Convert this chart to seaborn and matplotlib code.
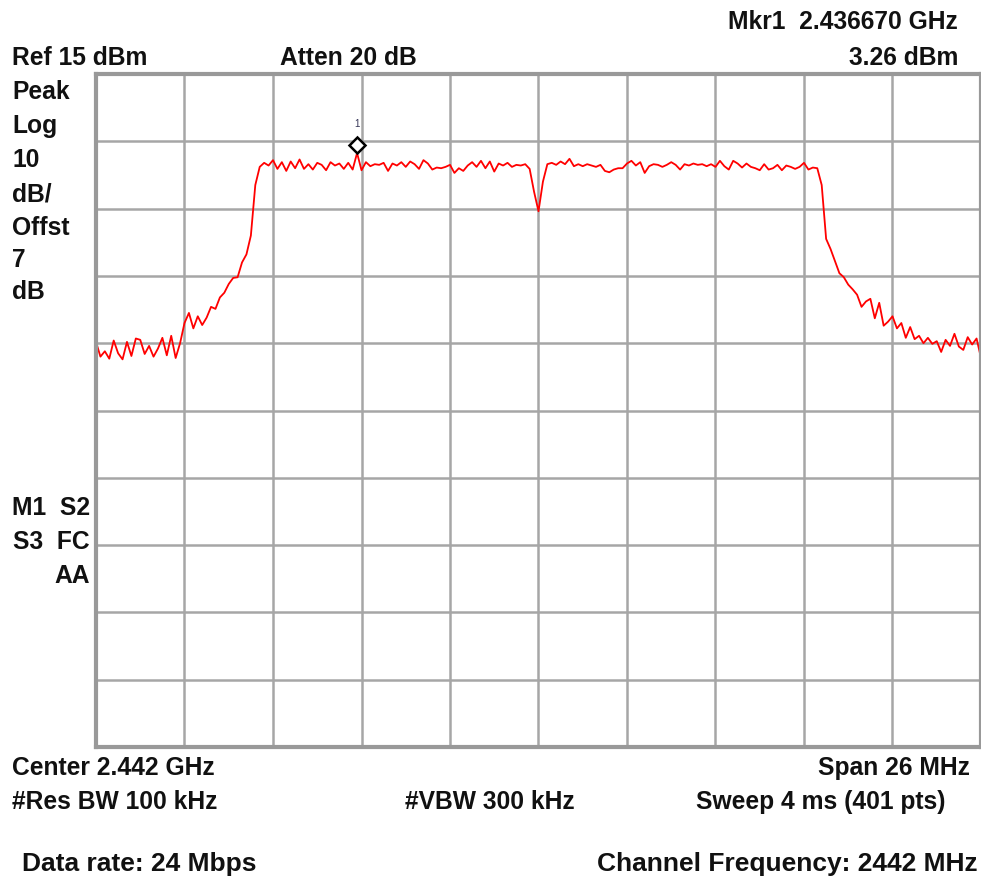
import numpy as np
import pandas as pd
import matplotlib
matplotlib.use('Agg')
import matplotlib.pyplot as plt
import matplotlib.transforms as mtransforms
import seaborn as sns

sns.set_style('white')
plt.rcParams['font.family'] = ['Liberation Sans', 'DejaVu Sans']

# Analyzer settings
center_mhz = 2442.0
span_mhz = 26.0
ref_dbm = 15
db_per_div = 10
n_pts = 201

mkr_freq = 2436.670
mkr_level = 3.26

# trace levels (dBm), left to right
level_a = [-24.8, -27.0, -26.2, -27.3, -24.6, -26.5, -27.4, -24.8, -26.9, -24.3,
           -24.5, -26.6, -25.4, -27.0, -25.8, -24.2, -26.8, -23.9, -27.2, -25.0,
           -22.0, -20.5, -22.8, -21.0, -22.3, -21.2, -19.6, -19.9, -18.2, -17.5,
           -16.2, -15.3, -15.2, -13.0, -11.8, -9.0, -1.5, 1.2, 1.8, 1.4]
level_b = [2.2, 0.9, 1.9, 0.6, 2.0, 1.0, 2.3, 0.9, 1.6, 0.8,
           1.8, 1.5, 0.7, 1.9, 1.4, 1.7, 0.9, 1.8, 0.8, 3.26,
           0.7, 1.9, 1.3, 1.6, 1.5, 1.8, 0.6, 1.7, 1.4, 1.9,
           1.2, 2.0, 1.6, 0.9, 2.2, 1.7, 0.8, 1.1, 1.0, 1.2]
level_c = [1.5, 0.3, 1.0, 0.6, 1.4, 1.9, 1.2, 2.1, 1.0, 2.0,
           0.5, 1.7, 1.4, 1.8, 1.2, 1.5, 1.4, 1.6, 0.9, -2.5,
           -5.4, -1.0, 1.6, 1.8, 1.5, 2.0, 1.6, 2.4, 1.3, 1.6,
           1.3, 1.6, 1.4, 1.2, 1.5, 0.6, 0.4, 0.8, 1.0, 1.0]
level_d = [1.7, 2.1, 1.4, 1.9, 0.3, 1.3, 1.6, 1.5, 1.2, 1.5,
           1.9, 1.5, 0.8, 1.6, 1.4, 1.7, 1.5, 1.6, 1.3, 1.6,
           1.2, 2.1, 1.3, 0.8, 2.1, 1.7, 1.1, 1.7, 1.2, 1.0,
           0.7, 1.6, 0.8, 1.0, 1.5, 0.7, 1.4, 1.2, 0.9, 1.2]
level_e = [1.8, 0.8, 1.1, 1.0, -1.5, -9.5, -11.0, -12.8, -14.6, -15.2,
           -16.3, -17.0, -17.8, -19.6, -18.8, -18.4, -21.3, -19.0, -22.4, -21.8,
           -21.0, -22.8, -22.0, -24.2, -22.6, -24.4, -23.9, -25.0, -24.2, -25.1,
           -24.7, -26.3, -24.5, -25.4, -23.6, -25.5, -26.0, -24.1, -25.2, -24.3,
           -27.2]
levels = level_a + level_b + level_c + level_d + level_e
assert len(levels) == n_pts

freqs = np.linspace(center_mhz - span_mhz / 2, center_mhz + span_mhz / 2, n_pts)
df = pd.DataFrame({'freq': freqs, 'level': levels})

W, H = 981, 879
fig = plt.figure(figsize=(W / 100, H / 100), dpi=100)
ax = fig.add_axes([96 / W, (H - 748) / H, 885 / W, 673 / H])

sns.lineplot(data=df, x='freq', y='level', color='#ff0000', lw=1.3, ax=ax)

# marker 1
off = mtransforms.offset_copy(ax.transData, fig=fig, x=0, y=8, units='dots')
ax.plot([mkr_freq], [mkr_level], marker='D', ms=8.5, mfc='white', mec='black',
        mew=1.8, transform=off, zorder=5)
off2 = mtransforms.offset_copy(ax.transData, fig=fig, x=0, y=30, units='dots')
ax.text(mkr_freq, mkr_level, '1', transform=off2, ha='center', va='center',
        fontsize=7, color='#333355')

x0 = center_mhz - span_mhz / 2
ax.set_xlim(x0, x0 + span_mhz)
ax.set_ylim(ref_dbm - 10 * db_per_div, ref_dbm)
ax.set_xticks(np.linspace(x0, x0 + span_mhz, 11))
ax.set_yticks(np.arange(ref_dbm - 10 * db_per_div, ref_dbm + 1, db_per_div))
ax.set_xticklabels([])
ax.set_yticklabels([])
ax.tick_params(length=0)
ax.grid(True, color='#a6a6a6', lw=1.8)
ax.set_xlabel('')
ax.set_ylabel('')
for s in ax.spines.values():
    s.set_color('#999999')
    s.set_linewidth(3)

fs = 17.7
def put(x, y, s, ha='left', size=fs):
    fig.text(x / W, 1 - y / H, s, ha=ha, va='center', fontsize=size,
             fontweight='bold', color='#111111')

put(958, 22, 'Mkr1  2.436670 GHz', 'right')
put(12, 58, 'Ref 15 dBm')
put(280, 58, 'Atten 20 dB')
put(958, 58, '3.26 dBm', 'right')
for yy, s in zip([92, 126, 160, 194, 228, 260, 292],
                 ['Peak', 'Log', '10', 'dB/', 'Offst', '7', 'dB']):
    put(12, yy, s)
put(90, 508, 'M1  S2', 'right')
put(90, 542, 'S3  FC', 'right')
put(90, 576, 'AA', 'right')
put(12, 768, 'Center 2.442 GHz')
put(970, 768, 'Span 26 MHz', 'right')
put(12, 802, '#Res BW 100 kHz')
put(405, 802, '#VBW 300 kHz')
put(945, 802, 'Sweep 4 ms (401 pts)', 'right')
put(22, 864, 'Data rate: 24 Mbps', size=19)
put(978, 864, 'Channel Frequency: 2442 MHz', 'right', size=19)

fig.savefig('out.png', dpi=100)
